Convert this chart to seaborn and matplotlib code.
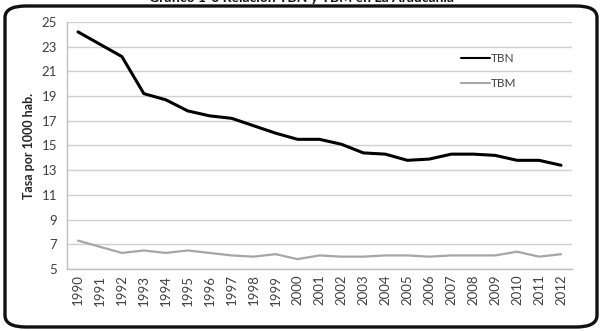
import matplotlib
matplotlib.use("Agg")
import matplotlib.pyplot as plt
import seaborn as sns
import pandas as pd
from matplotlib.patches import FancyBboxPatch

years = list(range(1990, 2013))
tbn = [24.2, 23.2, 22.2, 19.2, 18.7, 17.8, 17.4, 17.2, 16.6, 16.0, 15.5, 15.5,
       15.1, 14.4, 14.3, 13.8, 13.9, 14.3, 14.3, 14.2, 13.8, 13.8, 13.4]
tbm = [7.3, 6.8, 6.3, 6.5, 6.3, 6.5, 6.3, 6.1, 6.0, 6.2, 5.8, 6.1,
       6.0, 6.0, 6.1, 6.1, 6.0, 6.1, 6.1, 6.1, 6.4, 6.0, 6.2]
yticks = list(range(5, 26, 2))
title = "Gráfico 1-6 Relación TBN y TBM en La Araucanía"
ylabel = "Tasa por 1000 hab."

sns.set_theme(style="white")
plt.rcParams['font.family'] = ['Lato', 'DejaVu Sans']

df = pd.DataFrame({"Año": years * 2,
                   "Tasa": tbn + tbm,
                   "Serie": ["TBN"] * len(years) + ["TBM"] * len(years)})

fig = plt.figure(figsize=(6.02, 3.31), dpi=100)
ax = fig.add_axes([67/602, 1-269/331, (572-67)/602, (269-22)/331])

sns.lineplot(data=df, x="Año", y="Tasa", hue="Serie",
             palette={"TBN": "#000000", "TBM": "#a6a6a6"}, ax=ax)
for line, lw in zip(ax.lines, [2.2, 1.6]):
    line.set_linewidth(lw)

ax.set_xlim(1989.5, 2012.5)
ax.set_ylim(5, 25)
ax.set_yticks(yticks)
ax.set_xticks(years)
ax.set_xticklabels([str(y) for y in years], rotation=90)
ax.tick_params(axis='both', labelsize=9.5, colors='#404040', length=0, pad=4)
ax.tick_params(axis='y', length=4, color='#c8c8c8', direction='out', pad=3)
ax.yaxis.grid(True, color='#d0d0d0', linewidth=1)
ax.set_axisbelow(True)
for s in ['top', 'right']:
    ax.spines[s].set_visible(False)
for s in ['left', 'bottom']:
    ax.spines[s].set_color('#bfbfbf')
    ax.spines[s].set_linewidth(1)
ax.set_xlabel("")
ax.set_ylabel(ylabel, fontsize=9, fontweight='bold', color='#262626', labelpad=5)

leg = ax.legend(loc='center left', bbox_to_anchor=(0.76, 0.80), frameon=False,
                fontsize=8.5, handlelength=2.4, handletextpad=0.1, labelspacing=1.2,
                labelcolor='#404040')
leg.set_title(None)

frame = FancyBboxPatch((5/602, 4/331), 592/602, 321/331,
                       boxstyle="round,pad=0,rounding_size=0.035",
                       transform=fig.transFigure, fill=False,
                       edgecolor='#111111', linewidth=2.4, zorder=10)
fig.patches.append(frame)

fig.text(0.5, 1 - 4/331, title, ha='center', va='bottom',
         fontsize=10, fontweight='bold', color='#111111')

fig.savefig("out.png", dpi=100)
